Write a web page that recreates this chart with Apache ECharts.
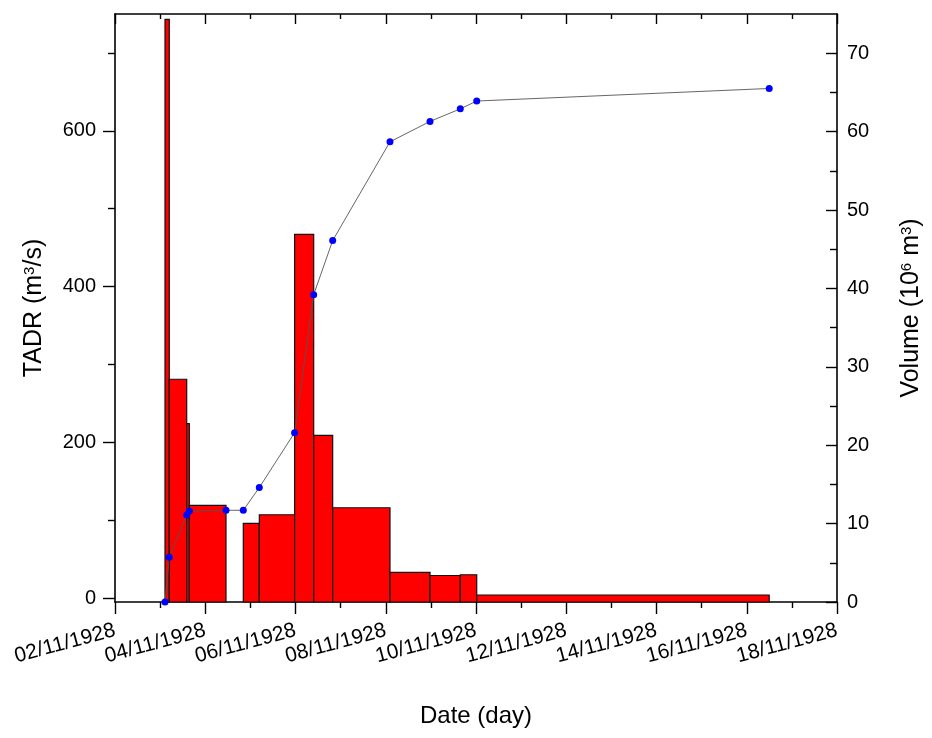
<!DOCTYPE html>
<html>
<head>
<meta charset="utf-8">
<title>TADR and volume</title>
<script src="https://cdn.jsdelivr.net/npm/echarts@6/dist/echarts.min.js"></script>
<style>
  html, body { margin: 0; padding: 0; background: #fff; }
  #chart { width: 932px; height: 738px; }
</style>
</head>
<body>
<div id="chart"></div>
<script>
'use strict';

// x values are days of November 1928 (decimal)
var barStart  = [3.108, 3.203, 3.589, 3.647, 4.843, 5.198, 5.98, 6.403, 6.824, 8.094, 8.981, 9.652, 10.016];
var barEnd    = [3.203, 3.589, 3.647, 4.460, 5.198, 5.98, 6.403, 6.824, 8.094, 8.981, 9.652, 10.016, 16.498];
var barHeight = [743, 281, 224, 119, 96, 107, 467, 209, 116, 33, 29, 30, 4];

var volDay = [3.108, 3.203, 3.589, 3.647, 4.460, 4.843, 5.198, 5.98, 6.403, 6.824, 8.094, 8.981, 9.652, 10.016, 16.498];
var volume = [0, 5.7, 11.1, 11.6, 11.7, 11.7, 14.6, 21.6, 39.2, 46.1, 58.7, 61.3, 62.9, 63.9, 65.5];

var leftMajor  = [0, 200, 400, 600];
var leftMinor  = [100, 300, 500, 700];
var rightMajor = [0, 10, 20, 30, 40, 50, 60, 70];
var rightMinor = [5, 15, 25, 35, 45, 55, 65];

var leftMin = -5, leftMax = 750;
var rightMin = 0, rightMax = 75;
var FONT = 'Liberation Sans';

var barData = barStart.map(function (s, i) { return [s, barEnd[i], barHeight[i]]; });
var volData = volDay.map(function (d, i) { return [d, volume[i]]; });

function pad(n) { return n < 10 ? '0' + n : '' + n; }

// columns drawn from the bottom of the frame up to their value
function renderBar(params, api) {
    var p0 = api.coord([api.value(0), api.value(2)]);
    var p1 = api.coord([api.value(1), leftMin]);
    return {
        type: 'rect',
        shape: { x: p0[0], y: p0[1], width: p1[0] - p0[0], height: p1[1] - p0[1] },
        style: { fill: '#ff0000', stroke: '#111', lineWidth: 1.2 }
    };
}

var axisLine = { show: true, onZero: false, lineStyle: { color: '#000', width: 1.6 } };
var tickStyle = { color: '#000', width: 1.4 };

var chart = echarts.init(document.getElementById('chart'));

var option = {
    animation: false,
    backgroundColor: '#fff',
    grid: { left: 115, right: 95, top: 14, bottom: 136 },
    xAxis: [
        {
            type: 'value', position: 'bottom',
            min: 2, max: 18, interval: 2,
            name: 'Date (day)', nameLocation: 'middle', nameGap: 102,
            nameTextStyle: { fontFamily: FONT, fontSize: 24, color: '#000' },
            axisLine: axisLine,
            axisTick: { show: true, inside: false, length: 12, lineStyle: tickStyle },
            minorTick: { show: true, splitNumber: 2, length: 6, lineStyle: tickStyle },
            splitLine: { show: false },
            axisLabel: {
                rotate: 15, margin: 28, fontFamily: FONT, fontSize: 21, color: '#000',
                formatter: function (v) { return pad(v) + '/11/1928'; }
            }
        },
        {
            type: 'value', position: 'top',
            min: 2, max: 18, interval: 2,
            axisLine: axisLine,
            axisTick: { show: true, inside: true, length: 10, lineStyle: tickStyle },
            minorTick: { show: true, splitNumber: 2, length: 5, lineStyle: tickStyle },
            splitLine: { show: false },
            axisLabel: { show: false }
        }
    ],
    yAxis: [
        {
            type: 'value', position: 'left',
            min: leftMin, max: leftMax,
            name: 'TADR (m{sup|3}/s)', nameLocation: 'middle', nameGap: 68, nameRotate: 90,
            nameTextStyle: {
                fontFamily: FONT, fontSize: 25, color: '#000',
                rich: { sup: { fontFamily: FONT, fontSize: 15, color: '#000', verticalAlign: 'top' } }
            },
            axisLine: axisLine,
            axisTick: { show: true, inside: false, length: 12, lineStyle: tickStyle, customValues: leftMajor },
            splitLine: { show: false },
            axisLabel: { margin: 19, fontFamily: FONT, fontSize: 20, color: '#000', customValues: leftMajor }
        },
        {
            type: 'value', position: 'right',
            min: rightMin, max: rightMax,
            name: 'Volume (10{sup|6} m{sup|3})', nameLocation: 'middle', nameGap: 62, nameRotate: 90,
            nameTextStyle: {
                fontFamily: FONT, fontSize: 25, color: '#000',
                rich: { sup: { fontFamily: FONT, fontSize: 15, color: '#000', verticalAlign: 'top' } }
            },
            axisLine: axisLine,
            axisTick: { show: true, inside: true, length: 11, lineStyle: tickStyle, customValues: rightMajor },
            splitLine: { show: false },
            axisLabel: { margin: 10, fontFamily: FONT, fontSize: 20, color: '#000', customValues: rightMajor }
        },
        {
            type: 'value', position: 'left',
            min: leftMin, max: leftMax,
            axisLine: { show: false },
            axisTick: { show: true, inside: false, length: 7, lineStyle: tickStyle, customValues: leftMinor },
            splitLine: { show: false },
            axisLabel: { show: false }
        },
        {
            type: 'value', position: 'right',
            min: rightMin, max: rightMax,
            axisLine: { show: false },
            axisTick: { show: true, inside: true, length: 7, lineStyle: tickStyle, customValues: rightMinor },
            splitLine: { show: false },
            axisLabel: { show: false }
        }
    ],
    series: [
        {
            name: 'TADR',
            type: 'custom',
            coordinateSystem: 'cartesian2d',
            xAxisIndex: 0, yAxisIndex: 0,
            renderItem: renderBar,
            encode: { x: [0, 1], y: 2 },
            data: barData,
            z: 2
        },
        {
            name: 'Volume',
            type: 'line',
            xAxisIndex: 0, yAxisIndex: 1,
            data: volData,
            symbol: 'circle', symbolSize: 7,
            itemStyle: { color: '#0000ff' },
            lineStyle: { color: '#555', width: 0.9 },
            z: 5
        }
    ]
};

chart.setOption(option);
</script>
</body>
</html>
